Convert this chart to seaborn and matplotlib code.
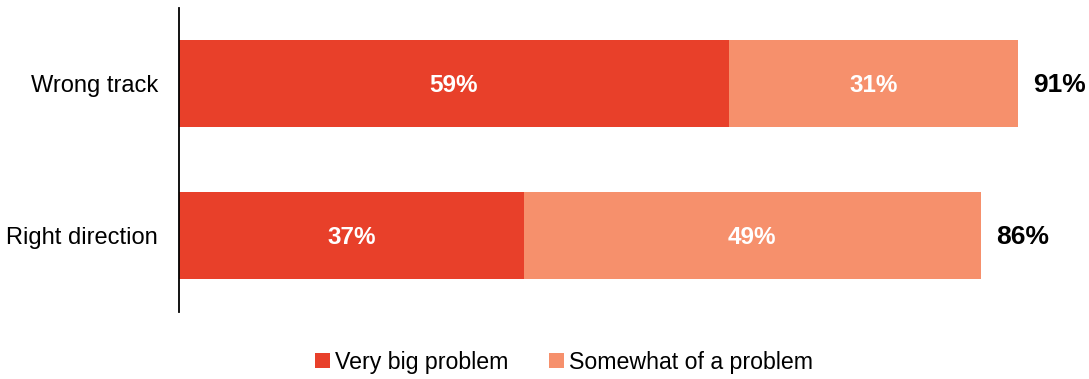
import matplotlib
matplotlib.use("Agg")
import matplotlib.pyplot as plt
from matplotlib.patches import Patch
import seaborn as sns
import pandas as pd

categories = ["Wrong track", "Right direction"]
very_big = [59, 37]
somewhat = [31, 49]
total_labels = ["91%", "86%"]
series_names = ["Very big problem", "Somewhat of a problem"]

dark = "#E8402A"
light = "#F6906C"

sns.set_theme(style="white")
plt.rcParams["font.family"] = ["Liberation Sans", "DejaVu Sans"]
plt.rcParams["text.color"] = "black"

df = pd.DataFrame({
    "category": categories,
    "very_big": very_big,
    "somewhat": somewhat,
})
df["stacked"] = df["very_big"] + df["somewhat"]

W, H = 1089, 379
fig = plt.figure(figsize=(W / 100, H / 100), dpi=100)
ax = fig.add_axes([179 / W, (H - 312) / H, (W - 179) / W, 304 / H])

# stacked bars: full length in light colour, first segment over it in dark
sns.barplot(data=df, x="stacked", y="category", orient="h", color=light,
            saturation=1, width=0.57, edgecolor="none", linewidth=0, ax=ax)
sns.barplot(data=df, x="very_big", y="category", orient="h", color=dark,
            saturation=1, width=0.57, edgecolor="none", linewidth=0, ax=ax)

ax.set_xlim(0, (W - 179) / 9.32)
ax.set_ylim(1.503, -0.497)

for i, row in df.iterrows():
    ax.annotate(f"{row['very_big']}%", xy=(row["very_big"] / 2, i), xytext=(0, -1.1),
                textcoords="offset points", ha="center", va="center",
                color="white", fontsize=17.5, fontweight="bold")
    ax.annotate(f"{row['somewhat']}%", xy=(row["very_big"] + row["somewhat"] / 2, i),
                xytext=(0, -1.1), textcoords="offset points", ha="center", va="center",
                color="white", fontsize=17.5, fontweight="bold")
    ax.annotate(total_labels[i], xy=(row["stacked"], i), xytext=(11, -1.1),
                textcoords="offset points", ha="left", va="center",
                fontsize=19, fontweight="bold", color="black")

ax.set_xlabel("")
ax.set_ylabel("")
ax.set_xticks([])
ax.tick_params(axis="y", length=0, pad=15, labelsize=17, labelcolor="black")
for side in ["top", "right", "bottom"]:
    ax.spines[side].set_visible(False)
ax.spines["left"].set_color("black")
ax.spines["left"].set_linewidth(1.3)

handles = [Patch(facecolor=dark, edgecolor="none"), Patch(facecolor=light, edgecolor="none")]
fig.legend(handles, series_names, loc="center", bbox_to_anchor=(564 / W, 17 / H),
           ncol=2, frameon=False, fontsize=16.7, handlelength=0.65, handleheight=0.65,
           handletextpad=0.22, columnspacing=1.77, labelcolor="black")

fig.savefig("out.png", dpi=100)
